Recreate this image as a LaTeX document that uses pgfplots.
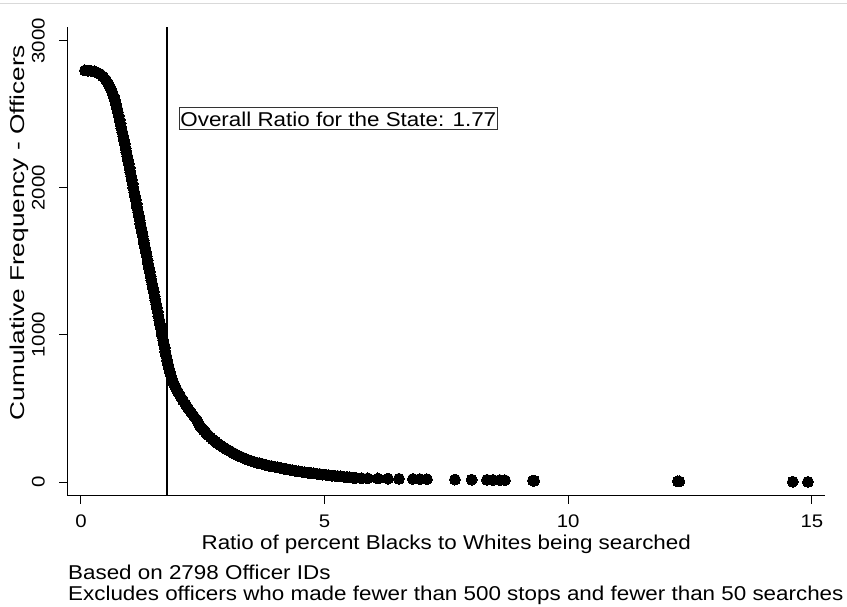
\documentclass[border=0pt]{standalone}
\usepackage{fontspec}
\setmainfont{Liberation Sans}
\usepackage{graphicx}
\usepackage{pgfplots}
\pgfplotsset{compat=1.18}
\newcommand\sx[1]{\scalebox{1.12}[1]{#1}}
\begin{document}
\begin{tikzpicture}
\path[use as bounding box] (0pt,0pt) rectangle (847pt,607pt);
\draw[black!15, line width=0.8pt] (0pt,603.5pt) -- (847pt,603.5pt);
\begin{axis}[
  at={(67.5pt,111pt)}, anchor=south west,
  scale only axis, width=757.5pt, height=469pt,
  xmin=-0.277, xmax=15.27, ymin=-95, ymax=3093,
  axis x line*=bottom, axis y line*=left,
  axis line style={line width=1pt, black},
  tick align=outside, major tick length=8pt,
  tick style={line width=1pt, black},
  xtick={0,5,10,15}, xticklabels={\sx{0},\sx{5},\sx{10},\sx{15}},
  ytick={0,1000,2000,3000}, yticklabels={\sx{0},\sx{1000},\sx{2000},\sx{3000}},
  tick label style={font=\fontsize{18.2}{18.2}\selectfont},
  xticklabel style={anchor=north, inner sep=0pt, yshift=-11pt},
  yticklabel style={xshift=-14.5pt, rotate=90, anchor=south, inner sep=0pt},
  xlabel={\sx{Ratio of percent Blacks to Whites being searched}},
  ylabel={\scalebox{1.31}[1]{Cumulative Frequency - Officers}},
  every axis x label/.style={at={(axis description cs:0.5,-0.1151)}, anchor=base, inner sep=0pt, font=\fontsize{20}{20}\selectfont},
  every axis y label/.style={at={(axis description cs:-0.0561,0.5618)}, rotate=90, anchor=base, inner sep=0pt, font=\fontsize{20}{20}\selectfont},
  clip=false,
]
\addplot[only marks, mark=*, mark size=5.5pt, black, mark options={fill=black, draw=black, line width=0pt}] coordinates {
(0.082,2798) (0.144,2797) (0.205,2795) (0.267,2791) (0.328,2784) (0.390,2774) (0.451,2757) (0.513,2733) (0.564,2706) (0.605,2678) (0.640,2651) (0.669,2624) (0.694,2597) (0.716,2570) (0.737,2542) (0.755,2515) (0.774,2488) (0.792,2461) (0.811,2434) (0.829,2406) (0.848,2379) (0.866,2352) (0.884,2325) (0.901,2298)
(0.917,2270) (0.933,2243) (0.949,2216) (0.965,2189) (0.981,2162) (0.997,2135) (1.013,2107) (1.029,2080) (1.045,2053) (1.061,2026) (1.077,1999) (1.093,1971) (1.109,1944) (1.125,1917) (1.141,1890) (1.157,1863) (1.173,1835) (1.189,1808) (1.205,1781) (1.221,1754) (1.237,1727) (1.253,1700) (1.269,1672) (1.285,1645) (1.301,1618) (1.317,1591) (1.333,1564) (1.349,1536) (1.365,1509) (1.381,1482) (1.397,1455) (1.413,1428) (1.429,1400) (1.445,1373) (1.461,1346) (1.478,1319) (1.494,1292) (1.510,1264) (1.526,1237) (1.542,1210) (1.558,1183) (1.574,1156) (1.590,1128) (1.606,1101) (1.622,1074) (1.638,1047) (1.654,1020) (1.670,993) (1.686,965) (1.702,938) (1.718,911) (1.734,884) (1.750,857)
(1.767,829) (1.783,802) (1.802,775) (1.824,748) (1.849,721) (1.878,693) (1.910,666) (1.947,639) (1.991,612) (2.038,585) (2.089,557) (2.142,530) (2.196,503) (2.253,476) (2.313,449) (2.376,422) (2.409,401) (2.442,381)
(2.483,365) (2.524,350) (2.565,335) (2.606,320) (2.657,304) (2.709,289) (2.760,275) (2.811,262) (2.872,248) (2.934,235) (2.996,222) (3.058,211) (3.120,198) (3.181,187) (3.242,177) (3.304,168) (3.366,159) (3.427,151) (3.488,144) (3.550,137) (3.612,131) (3.673,126) (3.735,121) (3.796,116) (3.858,111) (3.920,107) (3.980,103) (4.043,99) (4.105,95) (4.166,91) (4.228,87) (4.289,84) (4.350,79) (4.412,75) (4.474,72) (4.535,69) (4.597,66) (4.658,64) (4.720,61) (4.781,59) (4.842,56) (4.904,54) (4.966,51) (5.028,49) (5.090,46) (5.151,44) (5.212,42) (5.274,40) (5.336,38) (5.397,36) (5.458,34) (5.520,32) (5.580,30) (5.643,28)
(5.760,26) (5.889,25) (6.095,24) (6.300,23) (6.526,22) (6.813,21) (6.957,20) (7.100,19) (7.675,17) (8.018,16) (8.332,15) (8.455,14) (8.598,13) (8.701,12) (9.276,10) (9.300,9) (12.25,5) (12.28,4) (14.61,2) (14.92,1)
};
\addplot[black, line width=2.2pt, forget plot] coordinates {(1.77,-95) (1.77,3093)};
\end{axis}
\node[draw=black!80, line width=0.8pt, inner xsep=1pt, inner ysep=0pt, text height=19.4pt, text depth=2.6pt, anchor=base west, font=\fontsize{20}{20}\selectfont] at (179pt,480.3pt) {\sx{Overall Ratio for the State: 1.77}};
\node[anchor=base west, inner sep=0pt, font=\fontsize{20}{20}\selectfont] at (68pt,27pt) {\sx{Based on 2798 Officer IDs}};
\node[anchor=base west, inner sep=0pt, font=\fontsize{20}{20}\selectfont] at (68pt,6.5pt) {\sx{Excludes officers who made fewer than 500 stops and fewer than 50 searches}};
\end{tikzpicture}
\end{document}
